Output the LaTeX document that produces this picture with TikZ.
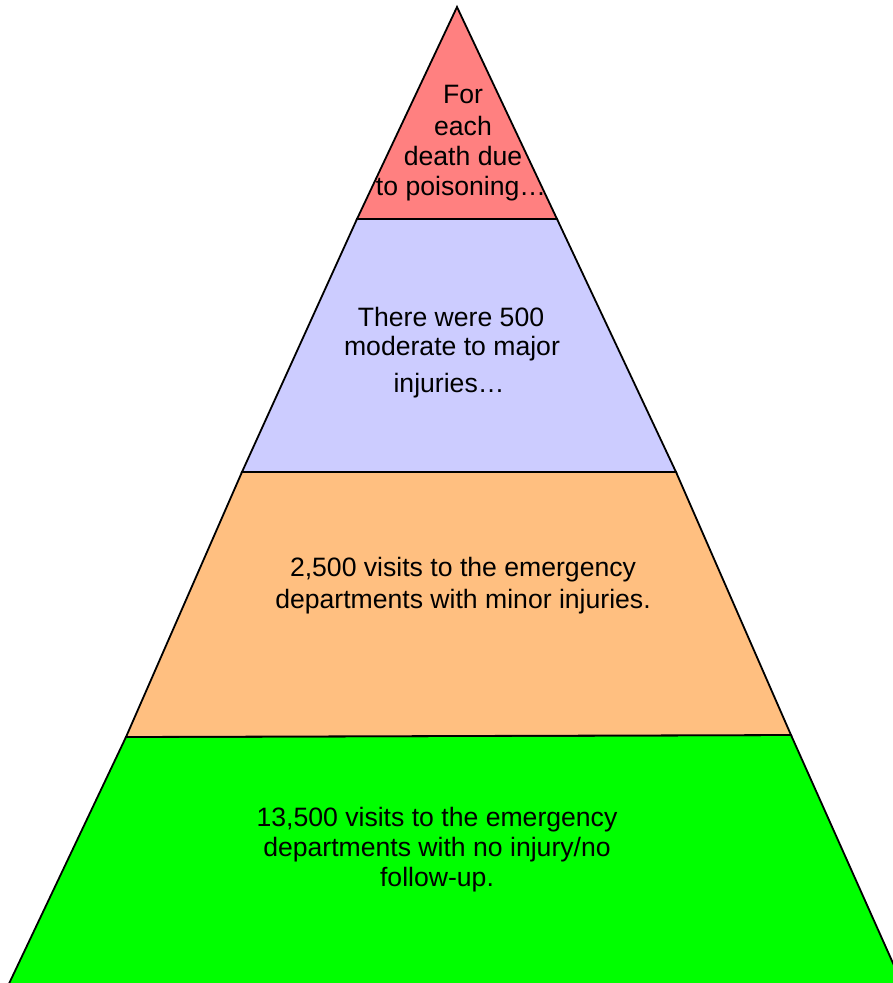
\documentclass[tikz,border=0pt]{standalone}
\usepackage{fontspec}
\setmainfont{Liberation Sans}
\definecolor{layerred}{HTML}{FF8080}
\definecolor{layerblue}{HTML}{CCCCFF}
\definecolor{layerorange}{HTML}{FFBF80}
\definecolor{layergreen}{HTML}{00FF00}
\begin{document}
\begin{tikzpicture}[x=1pt,y=-1pt,
  layer/.style={draw=black,line width=1.8pt,line join=miter},
  txt/.style={anchor=base,inner sep=0pt,font=\fontsize{26.6}{30.6}\selectfont}]
\useasboundingbox (0,0) rectangle (893,983);
\clip (0,0) rectangle (893,983);
% layers
\filldraw[layer,fill=layergreen] (126,737) -- (791,735) -- (905,990) -- (6,990) -- cycle;
\filldraw[layer,fill=layerorange] (242,472) -- (676,472) -- (791,735) -- (126,737) -- cycle;
\filldraw[layer,fill=layerblue] (357,219) -- (557,219) -- (676,472) -- (242,472) -- cycle;
\filldraw[layer,fill=layerred] (457,7) -- (557,219) -- (357,219) -- cycle;
% red text
\node[txt] (r1) at (463,103) {For};
\node[txt] (r2) at (463,135) {each};
\node[txt] (r3) at (463,165) {death due};
\node[txt] (r4) at (461,195) {to poisoning…};
% blue text
\node[txt] (b1) at (451,326) {There were 500};
\node[txt] (b2) at (452,355) {moderate to major};
\node[txt] (b3) at (449,392) {injuries…};
% orange text
\node[txt] (o1) at (463,576) {2,500 visits to the emergency};
\node[txt] (o2) at (463,608) {departments with minor injuries.};
% green text
\node[txt] (g1) at (437,826) {13,500 visits to the emergency};
\node[txt] (g2) at (437,856) {departments with no injury/no};
\node[txt] (g3) at (437,886) {follow-up.};
\end{tikzpicture}
\end{document}
